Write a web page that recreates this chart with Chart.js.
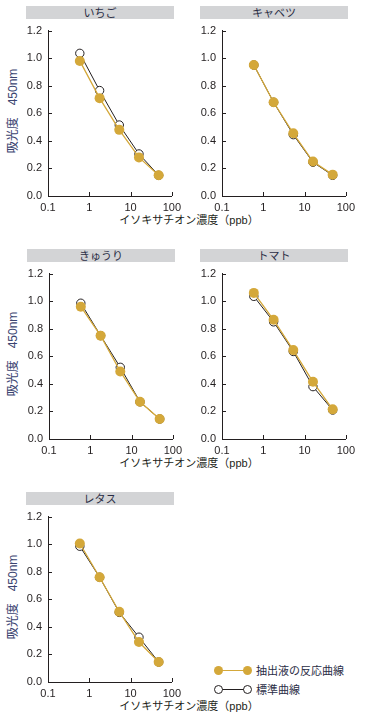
<!DOCTYPE html>
<html>
<head>
<meta charset="utf-8">
<script src="https://cdn.jsdelivr.net/npm/chart.js@4"></script>
<style>
  body { margin: 0; width: 368px; height: 720px; background: #fff; position: relative; overflow: hidden;
         font-family: "Liberation Sans", "Noto Sans CJK JP", sans-serif; color: #231f20; }
  canvas { position: absolute; }
  .bar { position: absolute; height: 13px; background: #d3d4d6; font: 11px "Noto Sans CJK JP", sans-serif;
         text-align: center; line-height: 13px; color: #2a2d45; }
  .ylab { position: absolute; transform: translate(-50%, -50%) rotate(-90deg); font: 12px "Liberation Sans", "Noto Sans CJK JP", sans-serif;
          color: #3b4571; white-space: nowrap; }
  .xlab { position: absolute; transform: translateX(-50%); font: 11px "Liberation Sans", "Noto Sans CJK JP", sans-serif;
          color: #231f20; white-space: nowrap; }
  .leg { position: absolute; font: 11px "Noto Sans CJK JP", sans-serif; color: #2a2d45; white-space: nowrap; }
  .dot { position: absolute; border-radius: 50%; box-sizing: border-box; }
  .ln { position: absolute; height: 1px; }
</style>
</head>
<body>
<script>
// concentrations (ppb), same for every panel
const concentrations = [0.59, 1.78, 5.33, 16, 48];
const xTicks = [0.1, 1, 10, 100];
const panelNames = ["いちご", "キャベツ", "きゅうり", "トマト", "レタス"];
const seriesNames = ["抽出液の反応曲線", "標準曲線"];

// absorbance at 450nm
const extractIchigo = [0.98, 0.71, 0.48, 0.28, 0.15];
const standardIchigo = [1.035, 0.765, 0.515, 0.305, 0.15];
const extractCabbage = [0.95, 0.68, 0.455, 0.25, 0.155];
const standardCabbage = [0.95, 0.68, 0.445, 0.245, 0.15];
const extractCucumber = [0.96, 0.75, 0.49, 0.27, 0.145];
const standardCucumber = [0.985, 0.75, 0.52, 0.27, 0.145];
const extractTomato = [1.06, 0.865, 0.645, 0.415, 0.215];
const standardTomato = [1.035, 0.85, 0.635, 0.38, 0.21];
const extractLettuce = [1.005, 0.76, 0.51, 0.29, 0.145];
const standardLettuce = [0.985, 0.76, 0.505, 0.325, 0.145];

const GOLD = "#d4a83a";
const INK = "#231f20";

// plot area of each panel (left, top)
const panels = [
  { name: panelNames[0], ext: extractIchigo, std: standardIchigo, L: 48, T: 26, left: true },
  { name: panelNames[1], ext: extractCabbage, std: standardCabbage, L: 222, T: 26, left: false },
  { name: panelNames[2], ext: extractCucumber, std: standardCucumber, L: 49, T: 269, left: true },
  { name: panelNames[3], ext: extractTomato, std: standardTomato, L: 222, T: 269, left: false },
  { name: panelNames[4], ext: extractLettuce, std: standardLettuce, L: 48, T: 512, left: true }
];
const W = 124, H = 170;
const PADL = 36, PADT = 8, PADR = 14, PADB = 22;

// small inward tick marks
const inwardTicks = {
  id: "inwardTicks",
  afterDraw(chart) {
    const { ctx, chartArea: a, scales: { x, y } } = chart;
    ctx.save();
    ctx.strokeStyle = INK;
    ctx.lineWidth = 1;
    ctx.beginPath();
    xTicks.forEach(v => {
      const px = Math.round(x.getPixelForValue(v)) + 0.5;
      ctx.moveTo(px, a.bottom);
      ctx.lineTo(px, a.bottom - 4);
    });
    y.ticks.forEach(t => {
      const py = Math.round(y.getPixelForValue(t.value)) + 0.5;
      ctx.moveTo(a.left, py);
      ctx.lineTo(a.left + 4, py);
    });
    ctx.stroke();
    ctx.restore();
  }
};

function addEl(cls, css, text) {
  const el = document.createElement("div");
  el.className = cls;
  Object.assign(el.style, css);
  if (text) el.textContent = text;
  document.body.appendChild(el);
  return el;
}

panels.forEach(p => {
  // grey title bar
  addEl("bar", { left: (p.L - 22) + "px", top: (p.T - 20) + "px", width: (W + 24) + "px" }, p.name);
  if (p.left) {
    addEl("ylab", { left: "11px", top: (p.T + H / 2) + "px" }, "吸光度\u3000450nm");
    addEl("xlab", { left: "189px", top: (p.T + H + 15) + "px" }, "イソキサチオン濃度（ppb）");
  }

  const cv = document.createElement("canvas");
  cv.width = PADL + W + PADR;
  cv.height = PADT + H + PADB;
  cv.style.left = (p.L - PADL) + "px";
  cv.style.top = (p.T - PADT) + "px";
  document.body.appendChild(cv);

  new Chart(cv, {
    type: "line",
    data: {
      datasets: [
        {
          label: seriesNames[0],
          data: concentrations.map((c, i) => ({ x: c, y: p.ext[i] })),
          borderColor: GOLD,
          borderWidth: 1.3,
          pointRadius: 5,
          pointBackgroundColor: GOLD,
          pointBorderColor: GOLD,
          pointBorderWidth: 0
        },
        {
          label: seriesNames[1],
          data: concentrations.map((c, i) => ({ x: c, y: p.std[i] })),
          borderColor: INK,
          borderWidth: 1,
          pointRadius: 4.2,
          pointBackgroundColor: "#fff",
          pointBorderColor: INK,
          pointBorderWidth: 1
        }
      ]
    },
    options: {
      responsive: false,
      animation: false,
      devicePixelRatio: 1,
      layout: { padding: { left: 0, top: PADT, right: PADR, bottom: 0 } },
      plugins: { legend: { display: false }, tooltip: { enabled: false } },
      scales: {
        x: {
          type: "logarithmic",
          min: 0.1,
          max: 100,
          afterBuildTicks: s => { s.ticks = xTicks.map(v => ({ value: v })); },
          afterFit: s => { s.height = PADB; },
          grid: { display: false, drawTicks: false },
          border: { display: true, color: INK, width: 1 },
          ticks: {
            color: INK,
            padding: 5,
            maxRotation: 0,
            font: { family: "Liberation Sans", size: 11 },
            callback: v => String(v)
          }
        },
        y: {
          min: 0,
          max: 1.2,
          afterFit: s => { s.width = PADL; },
          grid: { display: false, drawTicks: false },
          border: { display: true, color: INK, width: 1 },
          ticks: {
            stepSize: 0.2,
            color: INK,
            padding: 6,
            font: { family: "Liberation Sans", size: 11 },
            callback: v => v.toFixed(1)
          }
        }
      }
    },
    plugins: [inwardTicks]
  });
});

// legend
function legendRow(y, fill, stroke, text) {
  addEl("ln", { left: "218px", top: (y - 0.5) + "px", width: "29px", background: stroke });
  [218, 247].forEach(cx => {
    addEl("dot", {
      left: (cx - 4.5) + "px", top: (y - 4.5) + "px", width: "9px", height: "9px",
      background: fill, border: fill === GOLD ? "none" : "1px solid " + INK
    });
  });
  addEl("leg", { left: "256px", top: (y - 8) + "px" }, text);
}
legendRow(670, GOLD, GOLD, seriesNames[0]);
legendRow(689, "#fff", INK, seriesNames[1]);
</script>
</body>
</html>
